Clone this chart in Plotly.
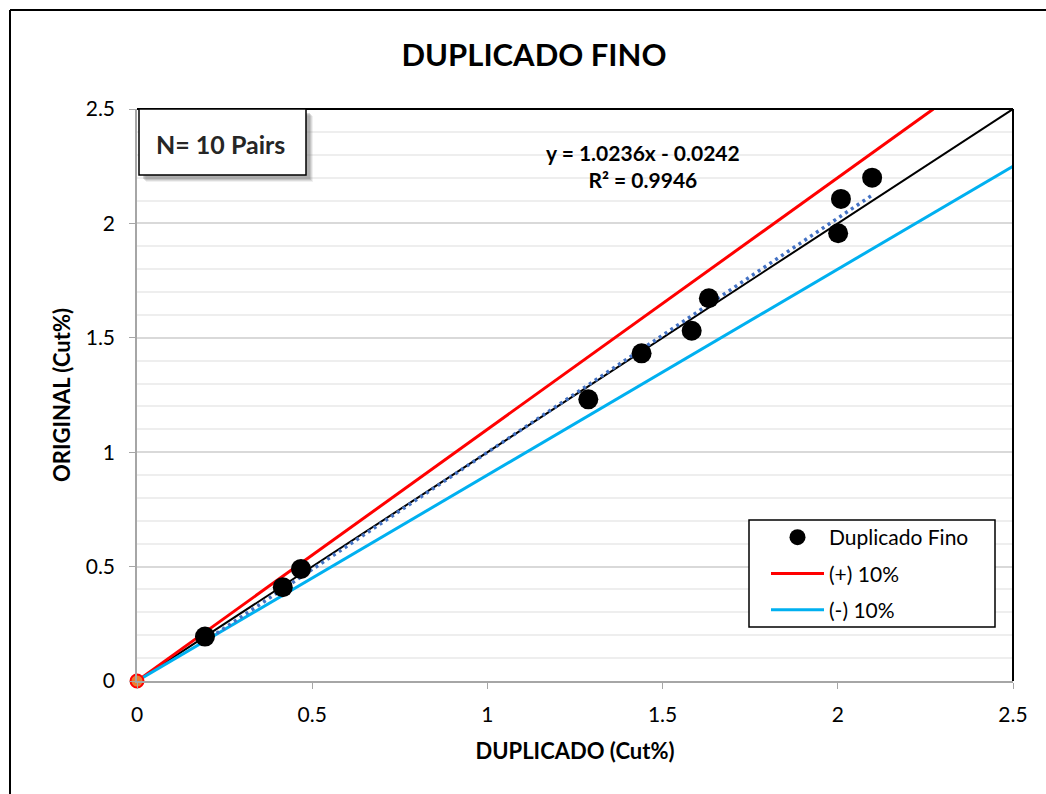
import plotly.graph_objects as go

# Duplicate pairs (Cut%)
duplicado = [0.194, 0.416, 0.468, 1.288, 1.440, 1.583, 1.632, 2.001, 2.009, 2.098]
original = [0.194, 0.410, 0.490, 1.231, 1.432, 1.531, 1.673, 1.957, 2.107, 2.200]

# Linear fit reported on the chart
slope = 1.0236
intercept = -0.0242
r2 = 0.9946

axis_max = 2.5
tick_vals = [0, 0.5, 1, 1.5, 2, 2.5]
tick_text = ["0", "0.5", "1", "1.5", "2", "2.5"]

FONT = "Lato"
AXIS_GRAY = "#A6A6A6"

fig = go.Figure()

# 1:1 reference line
fig.add_trace(go.Scatter(x=[0, axis_max], y=[0, axis_max], mode="lines",
                         line=dict(color="black", width=2), showlegend=False,
                         hoverinfo="skip"))

# +10% and -10% limit lines
fig.add_trace(go.Scatter(x=[0, axis_max / 1.1], y=[0, axis_max], mode="lines",
                         line=dict(color="#FF0000", width=3), name="(+) 10%",
                         legendrank=2, legendgroup="b"))
fig.add_trace(go.Scatter(x=[0, axis_max], y=[0, axis_max * 0.9], mode="lines",
                         line=dict(color="#00B0F0", width=3), name="(-) 10%",
                         legendrank=3, legendgroup="c"))

# Trend line over the data range
x_lo, x_hi = min(duplicado), max(duplicado)
fig.add_trace(go.Scatter(x=[x_lo, x_hi],
                         y=[slope * x_lo + intercept, slope * x_hi + intercept],
                         mode="lines", line=dict(color="#4472C4", width=3.5, dash="3px,4px"),
                         showlegend=False, hoverinfo="skip"))

# Data points
fig.add_trace(go.Scatter(x=duplicado, y=original, mode="markers",
                         marker=dict(color="black", size=20), name="Duplicado Fino",
                         legendrank=1, legendgroup="a"))

# Origin marker
fig.add_trace(go.Scatter(x=[0], y=[0], mode="markers",
                         marker=dict(color="#ED7D31", size=13,
                                     line=dict(color="#FF0000", width=2)),
                         showlegend=False, cliponaxis=False))


def px_x(p):
    return (p - 137) / 876


def px_y(p):
    return (681 - p) / 572


fig.update_layout(
    width=1046, height=794,
    margin=dict(l=137, r=33, t=109, b=113),
    paper_bgcolor="white", plot_bgcolor="white",
    font=dict(family=FONT, color="black", size=21),
    title=dict(text="<b>DUPLICADO FINO</b>", x=534 / 1046, xref="container", xanchor="center",
               y=1 - 55 / 794, yanchor="middle", font=dict(size=31, family=FONT)),
    showlegend=True,
    legend=dict(x=px_x(766), y=px_y(517), xanchor="left", yanchor="top",
                borderwidth=0, bgcolor="rgba(0,0,0,0)",
                font=dict(size=21, family=FONT), traceorder="grouped",
                tracegroupgap=6, itemsizing="trace", itemwidth=53),
    xaxis=dict(range=[0, axis_max], tickvals=tick_vals, ticktext=tick_text,
               showgrid=False, zeroline=False, showline=True, linecolor=AXIS_GRAY,
               linewidth=1.5, ticks="outside", ticklen=6, tickcolor=AXIS_GRAY,
               ticklabelstandoff=8, tickfont=dict(size=21),
               title=dict(text="<b>DUPLICADO (Cut%)</b>", font=dict(size=22), standoff=19)),
    yaxis=dict(range=[0, axis_max], tickvals=tick_vals, ticktext=tick_text,
               showgrid=True, gridcolor="#D9D9D9", gridwidth=1.5, zeroline=False,
               showline=True, linecolor=AXIS_GRAY, linewidth=1.5, ticks="outside",
               ticklen=6, tickcolor=AXIS_GRAY, ticklabelstandoff=10, tickfont=dict(size=21),
               minor=dict(dtick=0.1, showgrid=True, gridcolor="#EEEEEE", gridwidth=1.5),
               title=dict(text="<b>ORIGINAL (Cut%)</b>", font=dict(size=22), standoff=9)),
)

# Legend frame
fig.add_shape(type="rect", xref="paper", yref="paper",
              x0=px_x(749), x1=px_x(995), y0=px_y(627), y1=px_y(520),
              fillcolor="white", line=dict(color="black", width=1.5), layer="above")

# Plot area border on top and right; outer chart frame
fig.add_shape(type="line", xref="paper", yref="paper", x0=0, x1=1, y0=1, y1=1,
              line=dict(color="black", width=2))
fig.add_shape(type="line", xref="paper", yref="paper", x0=1, x1=1, y0=0, y1=1,
              line=dict(color="black", width=2))
fig.add_shape(type="line", xref="paper", yref="paper",
              x0=px_x(10), x1=1.2, y0=px_y(10), y1=px_y(10),
              line=dict(color="black", width=2))
fig.add_shape(type="line", xref="paper", yref="paper",
              x0=px_x(10), x1=px_x(10), y0=-0.3, y1=px_y(10),
              line=dict(color="black", width=2))

# Sample-count box with a soft drop shadow
for off, op in [(7, 0.12), (6, 0.18), (5, 0.25), (4, 0.3)]:
    fig.add_shape(type="rect", xref="paper", yref="paper",
                  x0=px_x(139 + off), x1=px_x(306 + off), y0=px_y(175 + off), y1=px_y(109 + off),
                  fillcolor="#808080", line=dict(width=0), opacity=op)
fig.add_shape(type="rect", xref="paper", yref="paper",
              x0=px_x(139), x1=px_x(306), y0=px_y(175), y1=px_y(109),
              fillcolor="white", line=dict(color="black", width=1.5))
fig.add_annotation(xref="paper", yref="paper", x=px_x(220), y=px_y(144),
                   xanchor="center", yanchor="middle",
                   text="<b>N= 10 Pairs</b>", showarrow=False,
                   font=dict(size=25, family=FONT, color="#262626"))

# Trend line equation
fig.add_annotation(xref="paper", yref="paper", x=px_x(643), y=px_y(166),
                   xanchor="center", yanchor="middle",
                   text=f"<b>y = {slope:.4f}x - {abs(intercept):.4f}<br>R² = {r2:.4f}</b>",
                   showarrow=False, align="center",
                   font=dict(size=21, family=FONT, color="black"))

fig.write_html("out.html")
